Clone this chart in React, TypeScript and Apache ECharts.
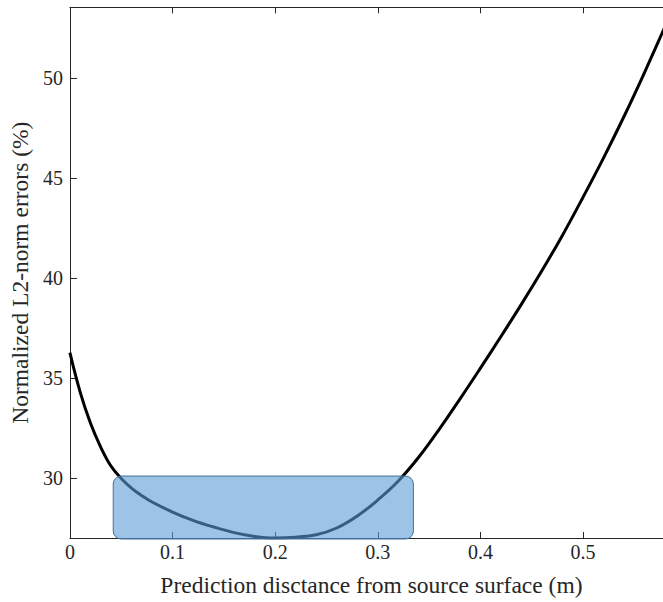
import React, { useEffect, useRef } from "react";
import * as echarts from "echarts";

// Prediction distance (m) and the normalized L2-norm error (%) at each distance
const distance = [
  0, 0.01, 0.02, 0.03, 0.04, 0.05, 0.06, 0.07, 0.08, 0.1, 0.12, 0.14, 0.16,
  0.18, 0.2, 0.22, 0.24, 0.26, 0.28, 0.3, 0.32, 0.34, 0.36, 0.38, 0.4, 0.42,
  0.44, 0.46, 0.48, 0.5, 0.52, 0.54, 0.56, 0.58, 0.6,
];
const errorPct = [
  36.27, 34.3, 32.75, 31.55, 30.6, 29.98, 29.5, 29.12, 28.8, 28.3, 27.88,
  27.55, 27.27, 27.08, 27.0, 27.04, 27.16, 27.5, 28.1, 28.9, 29.85, 31.05,
  32.45, 33.95, 35.5, 37.08, 38.7, 40.38, 42.15, 44.05, 46.02, 48.1, 50.3,
  52.6, 54.9,
];

// Highlighted low-error region: [x from, x to, y from, y to]
const optimalRegion = [0.0422, 0.3347, 26.95, 30.1];

const xTicks = [0, 0.1, 0.2, 0.3, 0.4, 0.5];
const yTicks = [30, 35, 40, 45, 50];

// visible end of the distance axis at the right edge of the canvas
const X_MAX = 0.5779;
const FONT = "'Liberation Serif', 'Times New Roman', serif";
const AXIS_COLOR = "#262626";

export default function App() {
  const ref = useRef<HTMLDivElement>(null);

  useEffect(() => {
    if (!ref.current) return;
    const chart = echarts.init(ref.current, undefined, { renderer: "svg" });

    const axisCommon = {
      axisLine: { show: true, onZero: false, lineStyle: { color: AXIS_COLOR, width: 1 } },
      splitLine: { show: false },
    };

    chart.setOption({
      animation: false,
      backgroundColor: "#ffffff",
      grid: { left: 68.3, right: 0, top: 7.3, bottom: 63 },
      xAxis: [
        {
          type: "value",
          min: 0,
          max: X_MAX,
          position: "bottom",
          ...axisCommon,
          axisTick: { show: true, inside: true, length: 6, customValues: xTicks, lineStyle: { color: AXIS_COLOR } },
          axisLabel: {
            customValues: xTicks,
            color: AXIS_COLOR,
            fontFamily: FONT,
            fontSize: 20,
            margin: 4,
          },
          name: "Prediction disctance from source surface (m)",
          nameLocation: "middle",
          nameGap: 35,
          nameTextStyle: { color: AXIS_COLOR, fontFamily: FONT, fontSize: 23.5, padding: [0, 0, 0, 10] },
        },
        {
          type: "value",
          min: 0,
          max: X_MAX,
          position: "top",
          ...axisCommon,
          axisTick: { show: true, inside: true, length: 6, customValues: xTicks, lineStyle: { color: AXIS_COLOR } },
          axisLabel: { show: false },
        },
      ],
      yAxis: [
        {
          type: "value",
          min: 27,
          max: 53.55,
          position: "left",
          ...axisCommon,
          axisTick: { show: true, inside: true, length: 7, customValues: yTicks, lineStyle: { color: AXIS_COLOR } },
          axisLabel: {
            customValues: yTicks,
            color: AXIS_COLOR,
            fontFamily: FONT,
            fontSize: 20,
            margin: 7,
          },
          name: "Normalized L2-norm errors (%)",
          nameLocation: "middle",
          nameGap: 33,
          nameTextStyle: { color: AXIS_COLOR, fontFamily: FONT, fontSize: 23.5 },
        },
      ],
      series: [
        {
          type: "line",
          data: distance.map((d, i) => [d, errorPct[i]]),
          showSymbol: false,
          smooth: 0.4,
          clip: true,
          lineStyle: { color: "#000000", width: 3 },
          z: 2,
        },
        {
          type: "custom",
          z: 3,
          data: [optimalRegion],
          renderItem: (_params: any, api: any) => {
            const p0 = api.coord([api.value(0), api.value(3)]);
            const p1 = api.coord([api.value(1), api.value(2)]);
            return {
              type: "rect",
              shape: { x: p0[0], y: p0[1], width: p1[0] - p0[0], height: p1[1] - p0[1], r: 8 },
              style: { fill: "rgba(91,155,213,0.6)", stroke: "#41719c", lineWidth: 1 },
            };
          },
        },
      ],
    });

    return () => chart.dispose();
  }, []);

  return (
    <div
      ref={ref}
      style={{ position: "fixed", left: 0, top: 0, width: 663, height: 602, background: "#fff" }}
    />
  );
}
